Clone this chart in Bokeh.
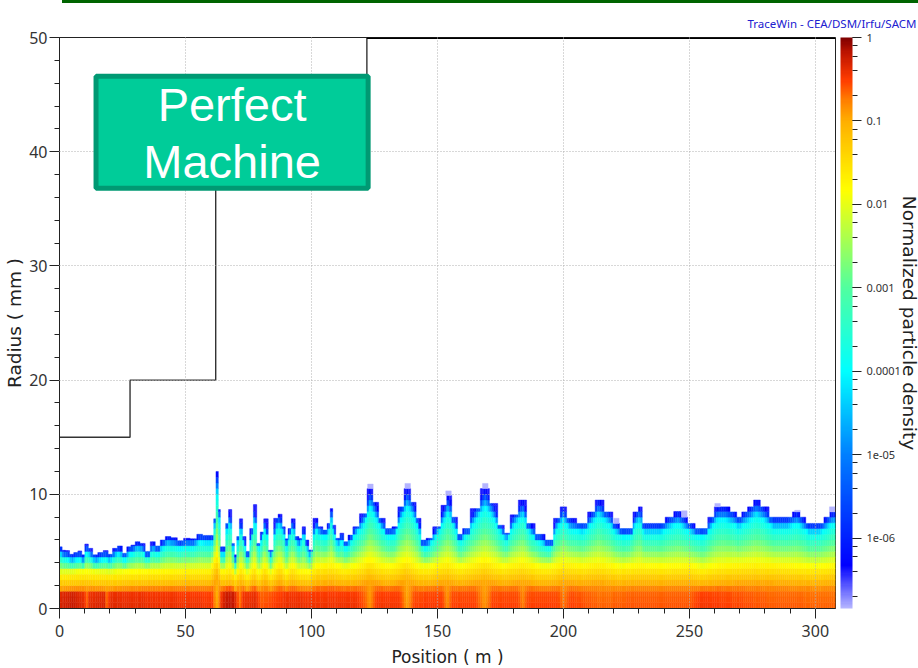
import numpy as np
from bokeh.plotting import figure
from bokeh.layouts import column
from bokeh.models import (ColumnDataSource, LogColorMapper, ColorBar, LogTicker, FixedTicker,
                          Label, BoxAnnotation, Range1d, LinearAxis, Title, Spacer)
from bokeh.embed import file_html
from bokeh.resources import INLINE

# ---- data ----
aperture_pos = [0, 28, 28, 62, 62, 122, 122, 308]
aperture_rad = [15, 15, 20, 20, 40, 40, 50, 50]

edge_pos = [0.4,1.7,3,5,6.3,8.3,9.4,10.7,12.2,14.2,16.2,18.5,20.1,22,24,25.9,27.5,29.2,30.9,33,35,37,39,41,43,45.5,48,50.5,53.2,55.8,57.8,60.8,
            61.6,62.6,63.5,64.2,65.5,66.4,67.8,69,69.9,70.8,72,73.4,74.7,76.3,77.6,79,80.4,81.7,84,86,87.5,89.2,90,91.4,92.6,94.5,
            95.6,97,98.3,99.6,101.6,103.6,105.5,106.9,108,108.9,110.4,112.2,113.5,115.5,117.4,120.7,123.4,125.4,128,130.6,133.3,135.3,138.2,140.6,142.5,144.5,146.5,149.8,
            153,154.4,157,159,161,165,169,172.3,175.6,177.5,180.2,184,186.8,190.8,194.7,197.4,200,202.6,208,211.2,214,
            218.3,221,223.6,226.3,228.9,230.6,232,238.8,242,245.6,248,250.6,254,256,258.6,261.2,264.5,267.8,269.8,271.8,274.4,276.6,279.7,283.6,288.9,292.9,294.9,297.5,302,304.8,306.7]
edge_rad = [5.4,5.1,5.07,4.75,4.9,5.04,4.7,5.65,5.27,4.7,4.9,5.07,4.75,5.27,5.48,4.84,5.4,5.56,5.85,5.7,5,5.85,5.48,6,6.3,6.2,5.94,6.15,6.1,6.5,6.4,6.4,
            7.85,12.0,8.67,5.4,5.4,7.45,8.67,5.7,4.7,6.3,7.85,6.3,5,7,9.1,5.7,6.7,7.85,5.1,7.9,8.26,7.15,6.1,7,7.85,6.3,
            6.14,7.16,6,5.13,7.9,7.16,6.87,7.45,8.75,7.3,6.15,6.6,5.85,6.43,7.16,8.3,10.5,9.3,7.9,7,7.16,8.9,10.5,9.3,7.9,6,6.15,7.16,
            9.04,9.9,8,6.5,7,8.75,10.5,9.2,7.3,6.6,8.2,9.5,7.45,6.5,6,7.9,8.9,7.9,7.45,8.46,9.5,
            8.46,7.45,7,7,8.46,8.9,7.45,7.45,8,8.5,8,7.45,7,7,8,8.9,8.9,8.46,8,8.46,8.9,9.5,8.9,8,8,8.46,8,7.45,7.45,8,8.46]

yellow_pos = [0,10,20,30,40,50,60,62.5,64.5,68,70,72,74.7,77.6,79,81.7,84,87.5,90,92.6,95,99.6,102,108,113,118,123,128,132,138,143,147,154,159,169,176,184,191,195,200,208,214,223,230,240,250,255,262,276,290,300,308]
yellow_rad = [3.1,3.25,3.15,3.3,3.4,3.5,3.5,4.9,3.3,3.7,3,3.8,3,3.9,3.1,3.9,3.1,4.1,3.3,3.9,3.4,3.3,3.8,4,3.6,3.8,4.4,3.9,3.8,4.4,3.7,3.7,4.2,3.7,4.4,3.8,4.2,3.7,3.7,4.1,3.9,4.1,3.7,3.9,3.8,3.9,3.6,3.9,4.1,3.9,3.7,3.9]

core_pos = [0,5,10,11,12,18,19,20,30,40,50,60,61,62,63,64,66,69,70.5,71.5,73,78,80,90,100,110,118,122,123,124.5,126,135,138,141,152,154,156,165,169,172,182,184,186,198,200,203,215,225,250,255,280,308]
core_log = [-0.3,-0.22,-0.35,-0.65,-0.35,-0.3,-0.7,-0.35,-0.38,-0.4,-0.42,-0.45,-0.5,-0.9,-0.95,-0.45,-0.18,-0.2,-0.4,-0.75,-0.4,-0.35,-0.6,-0.4,-0.42,-0.42,-0.42,-0.65,-0.85,-0.65,-0.45,-0.45,-0.9,-0.5,-0.48,-0.8,-0.5,-0.5,-0.85,-0.5,-0.5,-0.75,-0.5,-0.5,-0.7,-0.5,-0.65,-0.6,-0.6,-0.45,-0.6,-0.65]

tip_pos = [123.4,138.2,154.4,169,221,248,261.2,292.9,306.7]
tip_rad = [10.9,10.95,10.3,10.95,7.9,8.55,9.2,8.6,8.9]

palette_log = [0,-0.17,-0.5,-0.75,-1,-1.83,-3,-4,-5,-6.33,-6.84]
palette_rgb = [(128,0,0),(190,20,0),(255,60,0),(255,128,0),(255,176,0),(255,255,0),(80,255,160),(0,255,255),(0,128,255),(0,0,255),(180,180,255)]

x_major = [0,50,100,150,200,250,300]
y_major = [0,10,20,30,40,50]
density_low = 10**-6.84

# ---- colour map ----
grid_log = np.linspace(-6.84, 0, 256)
rev_l, rev_rgb = palette_log[::-1], palette_rgb[::-1]
palette = ["#%02x%02x%02x" % tuple(int(round(np.interp(g, rev_l, [c[k] for c in rev_rgb]))) for k in range(3)) for g in grid_log]
mapper = LogColorMapper(palette=palette, low=density_low, high=1)

# ---- density cells built from the read contours ----
ep = np.array(edge_pos); er = np.array(edge_rad)
mids = (ep[1:] + ep[:-1]) / 2
lefts = np.r_[0, mids]; rights = np.r_[mids, 308]
ROW = 0.5
SUB = 0.8
cl, cr, cb, ct, cd = [], [], [], [], []
for j in range(len(ep)):
    e = er[j]
    n = max(1, int(round((rights[j] - lefts[j]) / SUB)))
    xs = np.linspace(lefts[j], rights[j], n + 1)
    for a, c in zip(xs[:-1], xs[1:]):
        xm = (a + c) / 2
        es = float(np.interp(xm, ep, er))
        ry = np.interp(xm, yellow_pos, yellow_rad)
        core = np.interp(xm, core_pos, core_log)
        gap = 0.7 + 0.25 * max(0, es - 7)
        rc = max(es - gap, ry + 0.3)
        re = max(es, rc + 0.1)
        kr = [0, 1.5, 0.57 * ry, ry, rc, re]
        kv = [core, core - 0.08, -1.0, -1.85, -4.0, -6.4]
        i = 0
        while i * ROW < e:
            b = i * ROW
            t = min(b + ROW, e)
            v = np.interp((b + t) / 2, kr, kv)
            if t >= e:
                v = min(v, -5.4)
            cl.append(a); cr.append(c); cb.append(b); ct.append(t); cd.append(10 ** v)
            i += 1
for tp, tr in zip(tip_pos, tip_rad):
    j = int(np.argmin(np.abs(ep - tp)))
    cl.append(tp - 1.1); cr.append(tp + 1.1); cb.append(er[j]); ct.append(tr); cd.append(density_low)
cells = ColumnDataSource(dict(left=cl, right=cr, bottom=cb, top=ct, d=cd))

# ---- figure ----
LIGHT = "Noto Sans"
p = figure(frame_width=776, frame_height=571, min_border_left=59, min_border_right=83,
           min_border_top=34, min_border_bottom=60, x_range=Range1d(0, 308), y_range=Range1d(0, 50),
           toolbar_location=None, output_backend="svg",
           outline_line_color="#222222", outline_line_width=1, title=None)
p.quad(left="left", right="right", bottom="bottom", top="top", source=cells,
       fill_color={"field": "d", "transform": mapper},
       line_color={"field": "d", "transform": mapper}, line_width=0.4)
p.line(aperture_pos, aperture_rad, line_color="#333333", line_width=1.4)
p.line(aperture_pos[-2:], aperture_rad[-2:], line_color="#000000", line_width=3)

for ax in (p.xaxis[0], p.yaxis[0]):
    ax.axis_line_color = "#222222"
    ax.major_tick_in = 0; ax.major_tick_out = 10
    ax.minor_tick_in = 0; ax.minor_tick_out = 5
    ax.major_tick_line_color = "#222222"; ax.minor_tick_line_color = "#222222"
    ax.major_label_text_font = LIGHT; ax.major_label_text_font_size = "16px"
    ax.major_label_text_color = "#333333"
    ax.axis_label_text_font = "DejaVu Sans"
    ax.axis_label_text_font_style = "normal"; ax.axis_label_text_color = "#222222"
p.xaxis[0].ticker = FixedTicker(ticks=x_major, minor_ticks=[v for v in range(0, 310, 10)])
p.yaxis[0].ticker = FixedTicker(ticks=y_major, minor_ticks=[v for v in range(0, 51, 2)])
p.xaxis[0].major_label_standoff = 6
p.yaxis[0].major_label_standoff = 2
p.xaxis[0].axis_label = "Position ( m )"
p.yaxis[0].axis_label = "Radius ( mm )"
p.xaxis[0].axis_label_text_font_size = "17px"
p.yaxis[0].axis_label_text_font_size = "18.5px"
p.xaxis[0].axis_label_standoff = 7
p.yaxis[0].axis_label_standoff = 1
for g in (p.xgrid[0], p.ygrid[0]):
    g.grid_line_color = "#b0b0b0"; g.grid_line_dash = "1 2"; g.grid_line_width = 1; g.level = "guide"
p.xgrid[0].ticker = FixedTicker(ticks=x_major)
p.ygrid[0].ticker = FixedTicker(ticks=y_major)

cbar = ColorBar(color_mapper=mapper, width=12, padding=0, margin=0, location=(5, 0),
                ticker=LogTicker(num_minor_ticks=5),
                major_label_overrides={1: "1", 0.1: "0.1", 0.01: "0.01", 0.001: "0.001", 0.0001: "0.0001", 1e-05: "1e-05", 1e-06: "1e-06"},
                major_tick_in=0, major_tick_out=9, major_tick_line_color="#222222",
                minor_tick_in=0, minor_tick_out=5, minor_tick_line_color="#222222",
                major_label_text_font=LIGHT, major_label_text_font_size="11px",
                major_label_text_color="#333333", label_standoff=5, bar_line_color=None,
                background_fill_color=None, border_line_color=None)
p.add_layout(cbar, "right")

side = LinearAxis(axis_label="Normalized particle density", axis_label_text_font="DejaVu Sans",
                  axis_label_text_font_size="18.5px", axis_label_text_font_style="normal",
                  axis_label_text_color="#222222", axis_line_color=None, major_tick_line_color=None,
                  minor_tick_line_color=None, ticker=FixedTicker(ticks=[]), axis_label_standoff=-5)
p.add_layout(side, "right")

p.add_layout(Title(text="TraceWin - CEA/DSM/Irfu/SACM", text_font=LIGHT, text_font_size="11.5px",
                   text_color="#2020d0", text_font_style="normal", align="right", standoff=14, offset=-81), "above")

# annotation box, in data coordinates of the frame
p.add_layout(BoxAnnotation(left=14.5, right=122.5, top=46.6, bottom=36.8,
                           fill_color="#00CC99", fill_alpha=1,
                           line_color="#009973", line_width=5, line_alpha=1, level="annotation"))
p.add_layout(Label(x=68.5, y=44.1, text="Perfect", text_font="Liberation Sans", text_font_size="47px",
                   text_color="#ffffff", text_align="center", text_baseline="middle"))
p.add_layout(Label(x=68.5, y=39.1, text="Machine", text_font="Liberation Sans", text_font_size="47px",
                   text_color="#ffffff", text_align="center", text_baseline="middle"))

top_bar = Spacer(width=856, height=3, margin=(0, 0, 0, 62), styles={"background": "#006400"})
open("out.html", "w").write(file_html(column(top_bar, p, spacing=0), INLINE))
